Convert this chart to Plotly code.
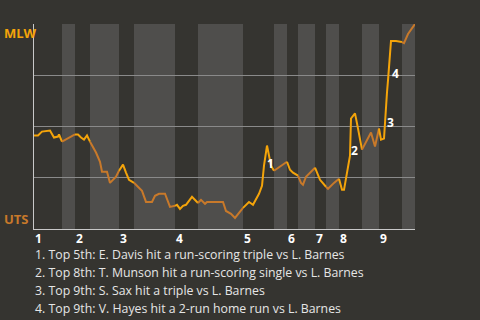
import plotly.graph_objects as go

# ---- data ----
# half-inning start positions (play index), top 1st ... bottom 9th
half_starts = [0, 28, 41, 56, 85, 100, 141, 164, 209, 240, 253, 264, 281, 292, 305, 328, 345, 368]
game_end = 381
inning_labels = ["1", "2", "3", "4", "5", "6", "7", "8", "9"]

# play index and MLW win probability (%)
play_x = [0, 4, 8, 16, 20, 24, 25, 28,
          41,
          44, 47, 50, 53, 55, 56,
          62, 66, 68, 73, 76, 82, 85,
          89, 92, 95, 100,
          101, 108, 112, 118, 121, 125, 131, 136, 141,
          143, 146, 149, 152, 158, 164,
          167, 171, 173, 189, 192, 197, 201, 209,
          215, 219, 225, 228, 230, 233, 235, 237, 240,
          253,
          256, 259, 264,
          267, 269, 272, 281,
          286, 292,
          294, 300, 305,
          308, 310, 312, 314, 316, 317, 320, 321, 323, 326, 328,
          332, 337, 341, 345,
          347, 350, 351, 352, 353, 354, 355, 356, 357, 362, 368,
          370, 374, 377, 381]
mlw_wp = [45.6, 45.6, 47.5, 48.0, 44.6, 45.1, 46.1, 42.6,
          46.1,
          46.1, 44.6, 43.6, 45.6, 43.1, 42.6,
          37.3, 32.8, 27.9, 27.9, 22.5, 25.5, 28.4,
          31.4, 27.5, 24.0, 22.5,
          22.1, 18.6, 13.2, 13.2, 16.2, 17.2, 17.2, 10.8, 11.3,
          11.8, 9.8, 11.3, 11.8, 15.7, 12.7,
          14.2, 12.3, 13.2, 13.2, 8.8, 7.4, 5.4, 10.3,
          13.2, 11.8, 17.2, 21.1, 30.9, 40.7, 36.3, 30.9, 28.4,
          32.8,
          28.9, 27.5, 26.0,
          22.5, 21.6, 25.5, 29.9,
          24.0, 20.6,
          19.6, 22.5, 24.5,
          19.1, 19.1, 25.0, 30.9, 35.8, 53.9, 55.4, 56.4, 51.5, 44.6, 38.7,
          42.6, 47.1, 40.2, 49.0,
          43.6, 44.1, 53.9, 60.3, 66.7, 72.5, 79.4, 84.8, 91.7, 91.7, 91.2,
          90.7, 95.1, 97.1, 100.0]

event_labels = ["1", "2", "3", "4"]
event_x = [236, 320, 356, 361]
event_y = [31.9, 38.2, 52.0, 76.0]
event_texts = [
    "1. Top 5th: E. Davis hit a run-scoring triple vs L. Barnes",
    "2. Top 8th: T. Munson hit a run-scoring single vs L. Barnes",
    "3. Top 9th: S. Sax hit a triple vs L. Barnes",
    "4. Top 9th: V. Hayes hit a 2-run home run vs L. Barnes",
]

# ---- style ----
BG = "#353430"
BAND = "#4f4e4c"
MLW_C = "#f4a40a"
UTS_C = "#c8792a"
FONT = "Open Sans"

fig = go.Figure()

ends = half_starts[1:] + [game_end]
for i, (s, e) in enumerate(zip(half_starts, ends)):
    xs = [x for x in play_x if s <= x <= e]
    ys = [y for x, y in zip(play_x, mlw_wp) if s <= x <= e]
    fig.add_trace(go.Scatter(
        x=xs, y=ys, mode="lines",
        line=dict(color=MLW_C if i % 2 == 0 else UTS_C, width=2),
        hoverinfo="skip", showlegend=False))

shapes = []
for i, (s, e) in enumerate(zip(half_starts, ends)):
    if i % 2 == 1:
        shapes.append(dict(type="rect", xref="x", yref="paper", x0=s, x1=e, y0=0, y1=1,
                           fillcolor=BAND, line=dict(width=0), layer="below"))

annotations = []
for k, lab in enumerate(inning_labels):
    annotations.append(dict(x=half_starts[2 * k], y=0, xref="x", yref="paper",
                            text="<b>%s</b>" % lab, showarrow=False,
                            xanchor="left", yanchor="top", yshift=0, borderpad=0,
                            font=dict(family=FONT, size=12, color="#ffffff")))
for lab, ex, ey in zip(event_labels, event_x, event_y):
    annotations.append(dict(x=ex, y=ey, xref="x", yref="y", text="<b>%s</b>" % lab,
                            showarrow=False, xanchor="center", yanchor="middle",
                            font=dict(family=FONT, size=12, color="#ffffff")))
for j, t in enumerate(event_texts):
    annotations.append(dict(x=0, y=0, xref="paper", yref="paper", text=t,
                            showarrow=False, xanchor="left", yanchor="middle",
                            yshift=-(25 + 18 * j), xshift=0, borderpad=0,
                            font=dict(family=FONT, size=12.3, color="#e6e6e6")))
annotations.append(dict(x=-32 / 381, y=1, xref="paper", yref="paper", text="<b>MLW</b>",
                        showarrow=False, xanchor="left", yanchor="top", yshift=2,
                        font=dict(family=FONT, size=13, color=MLW_C)))
annotations.append(dict(x=-32 / 381, y=0, xref="paper", yref="paper", text="<b>UTS</b>",
                        showarrow=False, xanchor="left", yanchor="bottom", yshift=-1,
                        font=dict(family=FONT, size=13, color=UTS_C)))

fig.update_layout(
    width=480, height=320,
    margin=dict(l=34, r=65, t=24, b=91),
    paper_bgcolor=BG, plot_bgcolor=BG,
    shapes=shapes, annotations=annotations,
    xaxis=dict(range=[0, game_end], showgrid=False, zeroline=False,
               showticklabels=False, showline=True, linecolor="#c8c8c8", linewidth=1,
               ticks=""),
    yaxis=dict(range=[0, 100], tickvals=[25, 50, 75, 100], showgrid=True,
               gridcolor="#8a8a8a", gridwidth=1, zeroline=False,
               showticklabels=False, showline=True, linecolor="#c8c8c8", linewidth=1,
               ticks=""),
)

fig.write_html("out.html")
